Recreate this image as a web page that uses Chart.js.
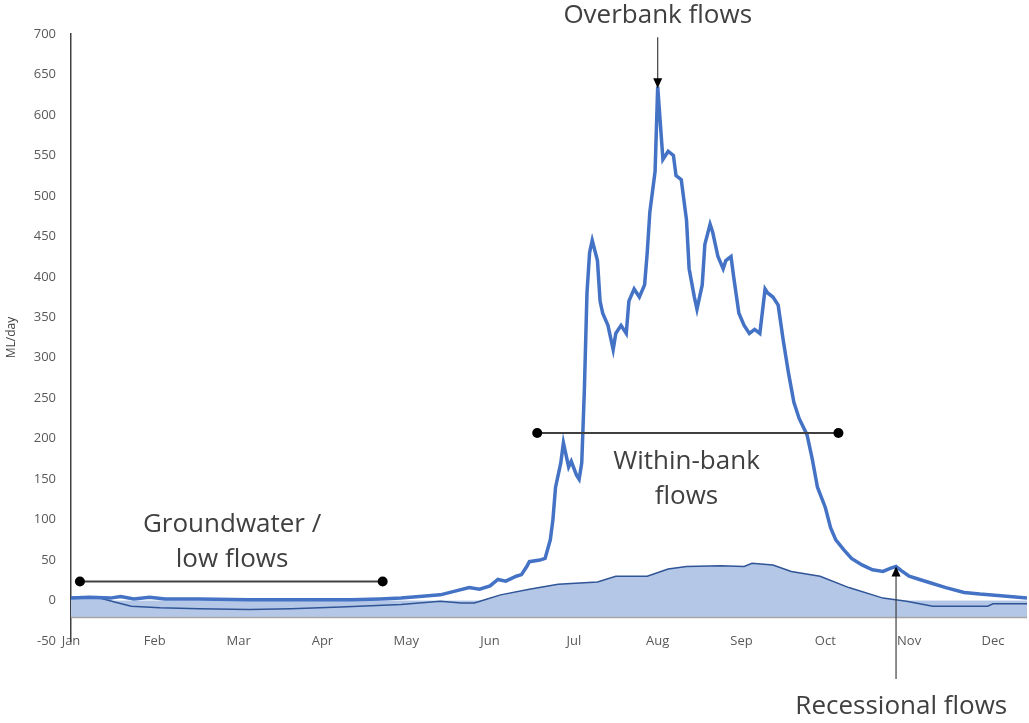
<!DOCTYPE html>
<html>
<head>
<meta charset="utf-8">
<script src="https://cdn.jsdelivr.net/npm/chart.js@4/dist/chart.umd.min.js"></script>
<style>
  html, body { margin: 0; padding: 0; background: #ffffff; }
  #c { display: block; }
</style>
</head>
<body>
<canvas id="c" width="1029" height="723"></canvas>
<script>
// Daily river flow (ML/day) over a year, sampled at turning points.
const FLOW_DAYS = [0, 7, 15, 19, 24, 30, 36, 49, 68, 87, 107, 118, 126, 133, 141, 147, 152, 156, 160, 163,
  166, 170, 172, 174, 175, 179, 181, 183, 184, 185, 187, 188, 189, 190, 191, 193, 194, 195, 196, 197,
  198, 199, 201, 202, 203, 205, 207, 208, 210, 212, 213, 215, 217, 219, 220, 221, 223, 224, 225, 226,
  228, 230, 231, 233, 235, 236, 238, 239, 241, 242, 244, 245, 247, 249, 250, 252, 253, 255, 257, 259,
  261, 263, 265, 266, 268, 270, 272, 274, 276, 278, 281, 283, 285, 288, 290, 292, 295, 298, 302, 306,
  310, 313, 315, 317, 320, 324, 328, 334, 341, 347, 355, 365];
const FLOW_ML = [3, 4, 3, 5, 2, 4, 2, 2, 1, 1, 1, 2, 3, 5, 7, 12, 16, 14, 18, 26,
  24, 30, 32, 42, 48, 50, 52, 75, 100, 140, 170, 195, 180, 165, 172, 155, 150, 170, 260, 380,
  430, 445, 420, 370, 355, 340, 310, 330, 340, 330, 370, 385, 375, 390, 430, 480, 530, 635, 590, 545,
  555, 550, 525, 520, 470, 410, 375, 360, 390, 440, 465, 455, 425, 410, 420, 425, 400, 355, 340, 330,
  335, 330, 385, 380, 375, 365, 320, 280, 245, 225, 205, 175, 140, 115, 90, 75, 63, 52, 44, 38,
  36, 40, 42, 37, 30, 26, 22, 16, 10, 8, 6, 3];

// Baseline (long-term typical) flow, drawn as the shaded area.
const BASE_DAYS = [0, 11, 17, 23, 34, 49, 68, 84, 103, 126, 141, 149, 154, 158, 164, 175, 186, 201, 208, 220,
  228, 235, 248, 257, 260, 268, 275, 286, 297, 310, 319, 329, 350, 352, 365];
const BASE_ML = [4, 3, -2, -7, -9, -10, -11, -10, -8, -5, -1, -3, -3, 1, 7, 14, 20, 23, 30, 30,
  39, 42, 43, 42, 46, 44, 36, 30, 16, 3, -1, -7, -7, -4, -4];

// Month labels and the day each label sits on.
const MONTHS = ['Jan', 'Feb', 'Mar', 'Apr', 'May', 'Jun', 'Jul', 'Aug', 'Sep', 'Oct', 'Nov', 'Dec'];
const MONTH_DAYS = [0, 32, 64, 96, 128, 160, 192, 224, 256, 288, 320, 352];

// Where the horizontal axis line crosses the value axis.
const AXIS_CROSS = -21;

const toPoints = (xs, ys) => xs.map((d, i) => ({ x: d, y: ys[i] }));

const AREA_FILL = '#b4c7e7';
const INK = '#404040';
const TICK_FONT = { family: 'Open Sans', size: 13 };
const NOTE_FONT = '26px "Open Sans"';

// Annotation layer: bracket ranges, arrows and captions, placed in data space.
const notes = {
  id: 'notes',
  beforeDatasetsDraw(chart) {
    const { ctx, scales: { x, y } } = chart;
    // shaded band between zero and the axis line
    ctx.save();
    ctx.fillStyle = AREA_FILL;
    const y0 = y.getPixelForValue(0), y1 = y.getPixelForValue(AXIS_CROSS);
    ctx.fillRect(x.getPixelForValue(0), y0, x.getPixelForValue(365) - x.getPixelForValue(0), y1 - y0);
    ctx.restore();
  },
  afterDatasetsDraw(chart) {
    const { ctx, scales: { x, y } } = chart;
    const X = v => x.getPixelForValue(v), Y = v => y.getPixelForValue(v);
    ctx.save();

    // horizontal axis line
    ctx.strokeStyle = '#a6a6a6';
    ctx.lineWidth = 1.5;
    ctx.beginPath();
    ctx.moveTo(X(0), Y(AXIS_CROSS));
    ctx.lineTo(X(365), Y(AXIS_CROSS));
    ctx.stroke();

    // range brackets with end dots
    const bracket = (d0, d1, v) => {
      ctx.strokeStyle = INK;
      ctx.lineWidth = 2;
      ctx.beginPath();
      ctx.moveTo(X(d0), Y(v));
      ctx.lineTo(X(d1), Y(v));
      ctx.stroke();
      ctx.fillStyle = '#000000';
      [d0, d1].forEach(d => {
        ctx.beginPath();
        ctx.arc(X(d), Y(v), 5, 0, Math.PI * 2);
        ctx.fill();
      });
    };
    bracket(3.4, 119, 23.5);
    bracket(178, 293, 207);

    // arrows
    const arrow = (d, vFrom, vTip) => {
      const px = X(d), ya = Y(vFrom), yb = Y(vTip);
      const dir = yb > ya ? 1 : -1;
      ctx.strokeStyle = INK;
      ctx.lineWidth = 1.2;
      ctx.beginPath();
      ctx.moveTo(px, ya);
      ctx.lineTo(px, yb - dir * 8);
      ctx.stroke();
      ctx.fillStyle = '#000000';
      ctx.beginPath();
      ctx.moveTo(px, yb);
      ctx.lineTo(px - 4.5, yb - dir * 10);
      ctx.lineTo(px + 4.5, yb - dir * 10);
      ctx.closePath();
      ctx.fill();
    };
    arrow(224, 696, 633);
    arrow(315, -97, 42);

    // captions
    ctx.fillStyle = INK;
    ctx.font = NOTE_FONT;
    ctx.textAlign = 'center';
    ctx.textBaseline = 'middle';
    ctx.fillText('Overbank flows', X(224), Y(723));
    ctx.fillText('Within-bank', X(235), Y(172));
    ctx.fillText('flows', X(235), Y(129));
    ctx.fillText('Groundwater /', X(61.5), Y(94));
    ctx.fillText('low flows', X(61.5), Y(51));
    ctx.fillText('Recessional flows', X(317), Y(-131));
    ctx.restore();
  }
};

new Chart(document.getElementById('c'), {
  type: 'line',
  data: {
    datasets: [
      {
        label: 'Flow',
        data: toPoints(FLOW_DAYS, FLOW_ML),
        borderColor: '#4472C4',
        borderWidth: 3.5,
        pointRadius: 0,
        tension: 0,
        fill: false,
        order: 0
      },
      {
        label: 'Baseline',
        data: toPoints(BASE_DAYS, BASE_ML),
        borderColor: '#2F5597',
        borderWidth: 1.5,
        backgroundColor: AREA_FILL,
        pointRadius: 0,
        tension: 0,
        fill: { target: { value: AXIS_CROSS }, above: AREA_FILL, below: AREA_FILL },
        order: 1
      }
    ]
  },
  options: {
    responsive: false,
    animation: false,
    layout: { padding: { top: 34, right: 2, left: 0, bottom: 0 } },
    plugins: { legend: { display: false }, tooltip: { enabled: false } },
    scales: {
      x: {
        type: 'linear',
        min: 0,
        max: 365,
        grid: { display: false, drawTicks: false },
        border: { display: false },
        afterBuildTicks(scale) {
          scale.ticks = MONTH_DAYS.map(v => ({ value: v }));
        },
        afterFit(scale) { scale.height = 82; },
        ticks: {
          autoSkip: false,
          maxRotation: 0,
          mirror: true,
          padding: -8,
          color: '#595959',
          font: TICK_FONT,
          callback: (v) => MONTHS[MONTH_DAYS.indexOf(v)]
        }
      },
      y: {
        min: -50,
        max: 700,
        grid: { display: false, drawTicks: false },
        border: { display: true, color: INK, width: 1.5 },
        afterFit(scale) { scale.width = 71; },
        ticks: {
          stepSize: 50,
          padding: 15,
          color: '#595959',
          font: TICK_FONT
        },
        title: {
          display: true,
          text: 'ML/day',
          color: INK,
          font: { family: 'Open Sans', size: 12 },
          padding: { top: 4, bottom: 0 }
        }
      }
    }
  },
  plugins: [notes]
});
</script>
</body>
</html>
